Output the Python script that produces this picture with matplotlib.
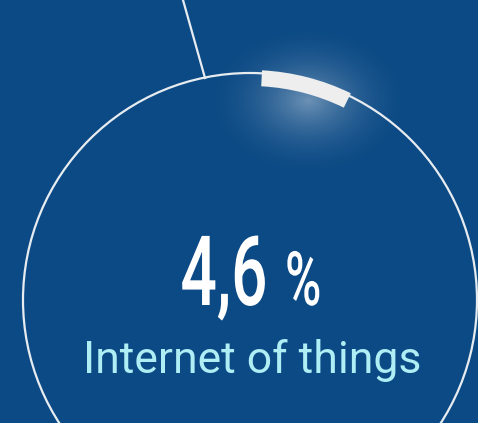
import matplotlib.pyplot as plt
import matplotlib.patches as mpatches
from matplotlib.patheffects import AbstractPathEffect
from matplotlib.transforms import Affine2D
import numpy as np

# data
share_value = [4.6]
share_label = ["Internet of things"]
value_text = ["4,6"]
unit_text = ["%"]


class Squeeze(AbstractPathEffect):
    # narrow the glyphs horizontally (condensed look), about the left or right edge
    def __init__(self, sx, pivot='left'):
        super().__init__()
        self.sx = sx
        self.pivot = pivot

    def draw_path(self, renderer, gc, tpath, affine, rgbFace=None):
        ext = tpath.get_extents()
        px = ext.x1 if self.pivot == 'right' else 0
        t = Affine2D().translate(-px, 0).scale(self.sx, 1).translate(px, 0)
        renderer.draw_path(gc, tpath, t + affine, rgbFace)


bg = '#0c4a85'
fig = plt.figure(figsize=(4.78, 4.23), dpi=100, facecolor=bg)
ax = fig.add_axes([0, 0, 1, 1])
ax.set_facecolor(bg)
ax.set_xlim(0, 478)
ax.set_ylim(423, 0)
ax.axis('off')

# soft glow behind the highlighted arc
gy, gx = np.mgrid[0:423, 0:478]
d = np.sqrt(((gx - 308) / 1.35) ** 2 + (gy - 100) ** 2)
glow = np.zeros((423, 478, 4))
glow[..., :3] = 1.0
glow[..., 3] = np.clip(1 - d / 80, 0, 1) ** 2 * 0.4
ax.imshow(glow, extent=(0, 478, 423, 0), zorder=1)

# main ring
cx, cy, r = 250, 300, 227
ax.add_patch(mpatches.Circle((cx, cy), r, fill=False, ec='#e6ecf0', lw=1.6, zorder=2))

# highlighted arc segment
ax.add_patch(mpatches.Wedge((cx, cy), r + 3, -87, -64, width=16,
                            fc='#eeeeee', ec='none', zorder=3))

# pointer line
ax.plot([183, 205], [0, 78], color='#e6ecf0', lw=1.6, zorder=2)

# texts
ax.text(269, 305, value_text[0], ha='right', va='baseline', color='white',
        fontsize=70, fontweight='medium', family=['Roboto', 'DejaVu Sans'], zorder=4,
        path_effects=[Squeeze(0.66, 'right')])
ax.text(285, 305, unit_text[0], ha='left', va='baseline', color='white',
        fontsize=54, fontweight='medium', family=['Roboto', 'DejaVu Sans'], zorder=4,
        path_effects=[Squeeze(0.66, 'left')])
ax.text(252, 373, share_label[0], ha='center', va='baseline', color='#aeeef4',
        fontsize=32, family=['Roboto', 'DejaVu Sans'], zorder=4)

fig.savefig('out.png', dpi=100, facecolor=bg)
